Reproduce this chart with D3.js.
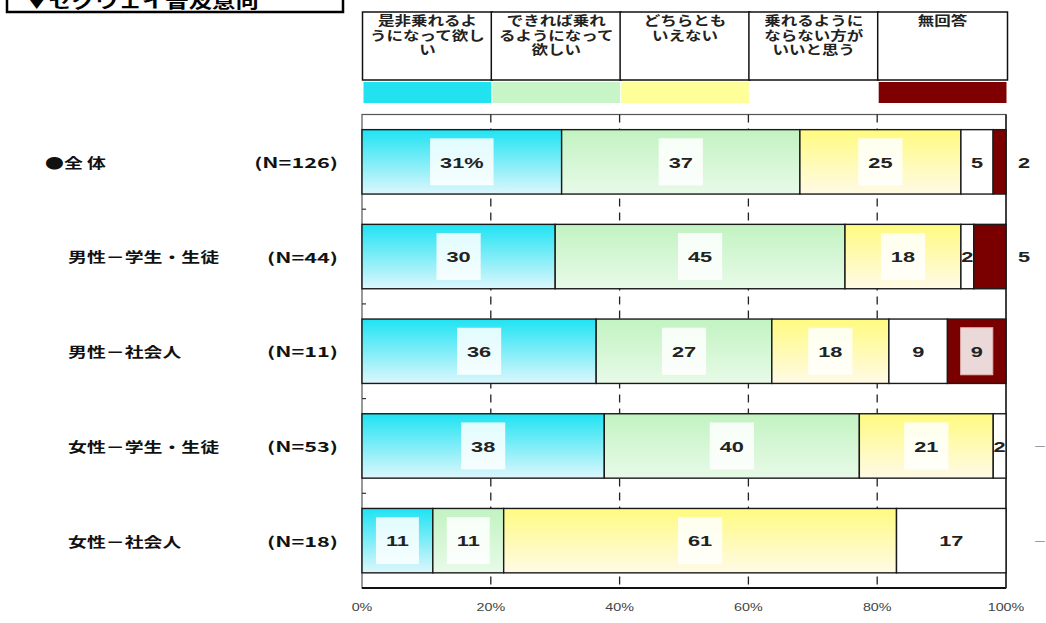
<!DOCTYPE html>
<html>
<head>
<meta charset="utf-8">
<script src="https://cdn.jsdelivr.net/npm/d3@7"></script>
<style>
  body { margin: 0; background: #fff; }
  svg { display: block; }
</style>
</head>
<body>
<svg id="chart" width="1046" height="623"></svg>
<script>
// ---- data ----
const titleText = "▼セグウェイ普及意向";
const categories = ["●全 体", "男性－学生・生徒", "男性－社会人", "女性－学生・生徒", "女性－社会人"];
const sampleSizes = [126, 44, 11, 53, 18];
const seriesKeys = ["want", "prefer", "neutral", "notWant", "noAnswer"];
const legendLines = [
  ["是非乗れるよ", "うになって欲し", "い"],
  ["できれば乗れ", "るようになって", "欲しい"],
  ["どちらとも", "いえない"],
  ["乗れるように", "ならない方が", "いいと思う"],
  ["無回答"]
];
const vWant     = [31, 30, 36, 38, 11];
const vPrefer   = [37, 45, 27, 40, 11];
const vNeutral  = [25, 18, 18, 21, 61];
const vNotWant  = [5, 2, 9, 2, 17];
const vNoAnswer = [2, 5, 9, 0, 0];
const xTicks = [0, 0.2, 0.4, 0.6, 0.8, 1];

// ---- setup ----
const svg = d3.select("#chart");
const SX = 1.35; // horizontal stretch applied to text
const jpFont = "'Noto Sans CJK JP', 'Noto Sans', sans-serif";
const numFont = "'Liberation Sans', Arial, sans-serif";

const seriesValues = [vWant, vPrefer, vNeutral, vNotWant, vNoAnswer];
const rows = categories.map((c, i) => {
  const r = { cat: c, n: sampleSizes[i] };
  seriesKeys.forEach((k, s) => r[k] = seriesValues[s][i]);
  return r;
});
const stacked = d3.stack().keys(seriesKeys).offset(d3.stackOffsetExpand)(rows);

const x = d3.scaleLinear().domain([0, 1]).range([362, 1006]);
const y = d3.scaleBand().domain(categories).range([114.5, 588]).paddingInner(0.32).paddingOuter(0.16);

const fills = {
  want: "url(#gWant)", prefer: "url(#gPrefer)", neutral: "url(#gNeutral)",
  notWant: "#ffffff", noAnswer: "#7a0000"
};
const swatch = {
  want: "#22e2f0", prefer: "#c8f5c8", neutral: "#ffff99", notWant: "#ffffff", noAnswer: "#7f0000"
};

// gradients for the filled segments
const defs = svg.append("defs");
function grad(id, top, bottom) {
  const g = defs.append("linearGradient").attr("id", id)
    .attr("x1", 0).attr("y1", 0).attr("x2", 0).attr("y2", 1);
  g.append("stop").attr("offset", "0%").attr("stop-color", top);
  g.append("stop").attr("offset", "100%").attr("stop-color", bottom);
}
grad("gWant", "#1fe3f3", "#ddf7fc");
grad("gPrefer", "#c2f3c2", "#e8fae8");
grad("gNeutral", "#fffb80", "#fffae6");

// text helper with horizontal stretch
function stretched(parent, str, cx, cy, opts) {
  return parent.append("text")
    .attr("transform", `translate(${cx},${cy}) scale(${opts.sx || SX},1)`)
    .attr("text-anchor", opts.anchor || "middle")
    .attr("dominant-baseline", "central")
    .style("font-family", opts.font || jpFont)
    .style("font-size", (opts.size || 14) + "px")
    .style("font-weight", opts.weight || "bold")
    .attr("fill", opts.fill || "#111")
    .text(str);
}

// ---- title box (top, partly off canvas) ----
svg.append("rect").attr("x", 7).attr("y", -30).attr("width", 336).attr("height", 42)
  .attr("fill", "#fff").attr("stroke", "#000").attr("stroke-width", 2.5);
svg.append("text")
  .attr("transform", `translate(25,8) scale(1.3,1)`)
  .style("font-family", jpFont).style("font-size", "18px").style("font-weight", "bold")
  .attr("fill", "#000").text(titleText);

// ---- legend table ----
const legend = svg.append("g");
seriesKeys.forEach((k, s) => {
  const x0 = x(s * 0.2), x1 = x((s + 1) * 0.2);
  legend.append("rect").attr("x", x0 + 0.5).attr("y", 12).attr("width", x1 - x0 + 1).attr("height", 68)
    .attr("fill", "#fff").attr("stroke", "#111").attr("stroke-width", 1.5);
  const t = legend.append("text")
    .attr("transform", `translate(${(x0 + x1) / 2 + 1},25) scale(1.27,1)`)
    .attr("text-anchor", "middle")
    .style("font-family", jpFont).style("font-size", "13px").style("font-weight", "bold")
    .attr("fill", "#222");
  legendLines[s].forEach((line, j) => {
    t.append("tspan").attr("x", 0).attr("dy", j === 0 ? 0 : 14.5).text(line);
  });
  legend.append("rect").attr("x", x0 + 1.5).attr("y", 82).attr("width", x1 - x0 - 1).attr("height", 21)
    .attr("fill", swatch[k]);
});

// ---- plot frame & grid ----
const plot = svg.append("g");
plot.append("rect").attr("x", x(0)).attr("y", 114.5).attr("width", x(1) - x(0)).attr("height", 588 - 114.5)
  .attr("fill", "#fff").attr("stroke", "#555").attr("stroke-width", 1.2);
plot.append("line").attr("x1", x(0)).attr("x2", x(1)).attr("y1", 588).attr("y2", 588)
  .attr("stroke", "#111").attr("stroke-width", 2);
plot.append("line").attr("x1", x(1)).attr("x2", x(1)).attr("y1", 114.5).attr("y2", 588)
  .attr("stroke", "#222").attr("stroke-width", 1.5);

plot.selectAll("line.grid").data(xTicks.slice(1, -1)).join("line").attr("class", "grid")
  .attr("x1", d => x(d)).attr("x2", d => x(d)).attr("y1", 114.5).attr("y2", 588)
  .attr("stroke", "#222").attr("stroke-width", 1.3).attr("stroke-dasharray", "8,6");

// small category-boundary ticks on the left edge
const bounds = categories.slice(1).map(c => y(c) - y.step() * y.paddingInner() / 2);
plot.selectAll("line.ytick").data(bounds).join("line").attr("class", "ytick")
  .attr("x1", x(0)).attr("x2", x(0) + 4).attr("y1", d => d).attr("y2", d => d)
  .attr("stroke", "#333").attr("stroke-width", 1.2);

// x-axis tick labels
const xAxis = svg.append("g");
xTicks.forEach(t => {
  stretched(xAxis, d3.format(".0%")(t), x(t), 607, { size: 11, font: numFont, weight: "normal", fill: "#444", sx: 1.3 });
});

// ---- bars ----
const bars = svg.append("g");
stacked.forEach(layer => {
  bars.selectAll(null).data(layer).join("rect")
    .attr("x", d => x(d[0]))
    .attr("y", d => y(d.data.cat))
    .attr("width", d => Math.max(0, x(d[1]) - x(d[0])))
    .attr("height", y.bandwidth())
    .attr("fill", fills[layer.key])
    .attr("stroke", d => (d[1] - d[0]) > 0 ? "#1a1a1a" : "none")
    .attr("stroke-width", 1.4);
});

// ---- value labels ----
const labels = svg.append("g");
stacked.forEach((layer, s) => {
  layer.forEach((d, i) => {
    const v = d.data[layer.key];
    const x0 = x(d[0]), x1 = x(d[1]);
    const cy = y(d.data.cat) + y.bandwidth() / 2;
    const segW = x1 - x0;
    if (v === 0) {
      stretched(labels, "－", x(1) + 34, cy, { size: 13, weight: "normal", fill: "#999", sx: 1 });
      return;
    }
    const str = (i === 0 && s === 0) ? v + "%" : String(v);
    const outside = layer.key === "noAnswer" && segW < 40;
    const cx = outside ? x(1) + 18 : (x0 + x1) / 2;
    const g = labels.append("g");
    const t = stretched(g, str, cx, cy + 0.5, { size: 15, font: numFont, fill: "#222", sx: 1.45 });
    if (!outside && layer.key !== "notWant") {
      const tw = t.node().getComputedTextLength() * 1.45;
      const bw = Math.min(tw + 20, segW - 8);
      if (bw > 0) {
        g.insert("rect", "text")
          .attr("x", cx - bw / 2).attr("y", cy - 23.5).attr("width", bw).attr("height", 47)
          .attr("fill", "#fff").attr("fill-opacity", 0.85)
          .attr("stroke", layer.key === "noAnswer" ? "#e6b8b8" : "none").attr("stroke-width", 1);
      }
    }
  });
});

// ---- category labels ----
const cats = svg.append("g");
rows.forEach((r, i) => {
  const cy = y(r.cat) + y.bandwidth() / 2;
  stretched(cats, r.cat, i === 0 ? 45 : 68, cy, { anchor: "start", size: 14, fill: "#111" });
  stretched(cats, `(N=${r.n})`, 338, cy, { anchor: "end", size: 14, fill: "#111", sx: 1.55 });
});
</script>
</body>
</html>
